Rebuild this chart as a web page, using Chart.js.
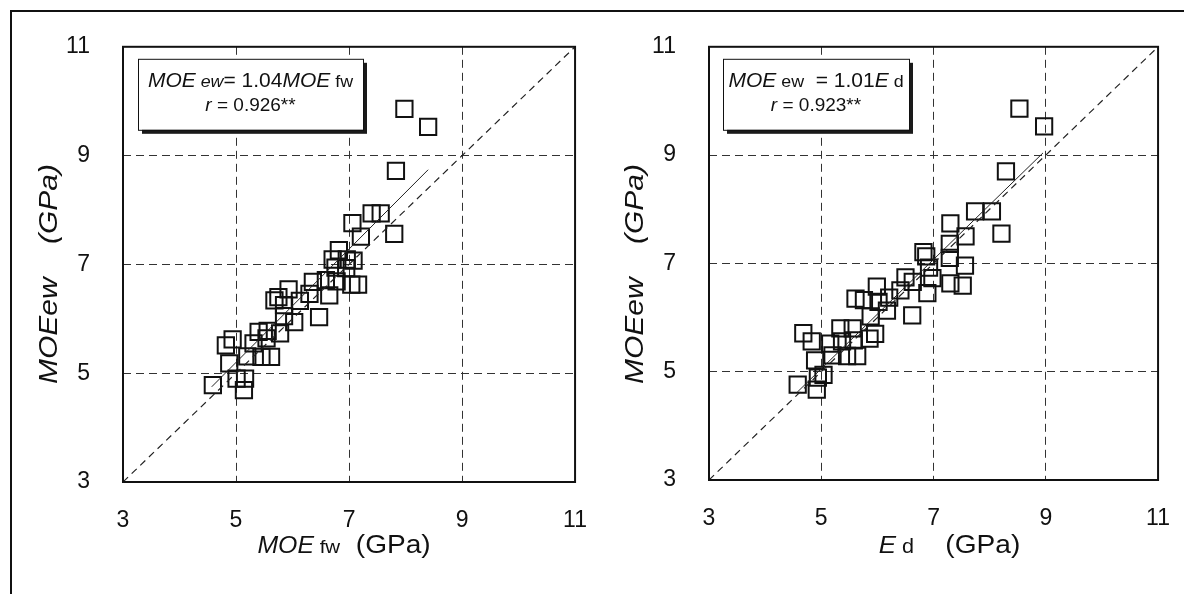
<!DOCTYPE html>
<html>
<head>
<meta charset="utf-8">
<script src="https://cdn.jsdelivr.net/npm/chart.js@4.4.1/dist/chart.umd.min.js"></script>
<style>
  body { margin: 0; background: #fff; width: 1184px; height: 594px; overflow: hidden; position: relative; }
  #frame { position: absolute; left: 10px; top: 10px; width: 1200px; height: 620px;
           border-left: 2px solid #111; border-top: 2px solid #111; }
  canvas { position: absolute; top: 0; }
</style>
</head>
<body>
<div id="frame"></div>
<canvas id="chartFw" width="612" height="594" style="left:0"></canvas>
<canvas id="chartEd" width="603" height="594" style="left:592px"></canvas>
<script>
// MOEfw vs MOEew (left panel), GPa
const fwX = [7.40, 7.56, 7.06, 7.21, 7.80, 6.82, 6.71, 6.96, 7.08, 6.76, 6.95,
             7.04, 7.16, 6.65, 6.59, 6.78, 6.36, 6.30, 6.13, 5.93, 5.75, 5.68,
             5.85, 6.47, 6.03, 5.85, 5.56, 5.40, 5.78, 4.94, 4.82, 5.20, 5.45,
             5.62, 4.88, 5.01, 5.16, 4.59, 5.14, 5.31, 5.54, 7.98, 8.40, 7.83];
const fwY = [7.94, 7.94, 7.76, 7.51, 7.56, 7.26, 7.09, 7.09, 7.07, 6.94, 6.93,
             6.63, 6.63, 6.43, 6.71, 6.69, 6.68, 6.46, 6.33, 6.54, 6.40, 6.34,
             6.25, 6.03, 5.94, 6.05, 5.78, 5.76, 5.73, 5.62, 5.51, 5.31, 5.30,
             5.30, 5.18, 4.90, 4.90, 4.78, 4.69, 5.55, 5.64, 9.86, 9.53, 8.72];

// Ed vs MOEew (right panel), GPa
const edX = [7.74, 8.04, 7.30, 7.57, 8.21, 7.29, 7.29, 7.56, 7.30, 7.52, 6.82,
             6.87, 6.92, 6.98, 6.89, 6.62, 6.63, 6.50, 6.41, 6.21, 5.99, 6.02,
             5.61, 5.76, 6.17, 5.88, 5.96, 5.34, 5.56, 5.86, 4.68, 4.83, 5.16,
             5.37, 5.58, 5.20, 5.46, 5.64, 4.89, 5.04, 4.94, 4.58, 4.92, 8.53,
             8.97, 8.29];
const edY = [7.96, 7.96, 7.74, 7.50, 7.55, 7.36, 7.10, 6.96, 6.63, 6.59, 7.21,
             7.13, 6.92, 6.73, 6.45, 6.04, 6.66, 6.74, 6.50, 6.37, 6.57, 6.29,
             6.35, 6.32, 6.13, 6.02, 5.70, 5.80, 5.80, 5.61, 5.71, 5.56, 5.52,
             5.56, 5.58, 5.30, 5.29, 5.29, 5.21, 4.94, 4.89, 4.76, 4.67, 9.86,
             9.53, 8.70];

// regression lines (end points) and the 1:1 line
const fwFitX = [4.57, 8.40];
const fwFitY = [4.75, 8.74];
const edFitX = [4.57, 8.95];
const edFitY = [4.62, 9.04];
const oneToOne = [3, 11];

const axisTicks = [3, 5, 7, 9, 11];

const FONT = '"Liberation Sans", Arial, sans-serif';

function toPoints(xs, ys) {
  return xs.map((x, i) => ({ x: x, y: ys[i] }));
}

// draw a line of mixed-style text centred on cx, optionally stretched
function drawRuns(ctx, runs, cx, y, sx) {
  let total = 0;
  runs.forEach(r => { ctx.font = r[1]; total += ctx.measureText(r[0]).width; });
  ctx.save();
  ctx.translate(cx, y);
  ctx.scale(sx || 1, 1);
  let x = -total / 2;
  ctx.textAlign = 'left';
  ctx.textBaseline = 'alphabetic';
  runs.forEach(r => {
    ctx.font = r[1];
    ctx.fillText(r[0], x, 0);
    x += ctx.measureText(r[0]).width;
  });
  ctx.restore();
}

const decor = {
  id: 'decor',
  afterDraw(chart, args, o) {
    const { ctx, chartArea: a } = chart;
    ctx.save();
    // plot frame
    ctx.strokeStyle = '#111';
    ctx.lineWidth = 2;
    ctx.strokeRect(a.left, a.top, a.right - a.left, a.bottom - a.top);

    // equation box with drop shadow
    const [dx, dy, bw, bh] = o.box;
    const bx = a.left + dx, by = a.top + dy;
    ctx.fillStyle = '#1a1a1a';
    ctx.fillRect(bx + 4, by + 4, bw, bh);
    ctx.fillStyle = '#fff';
    ctx.fillRect(bx, by, bw, bh);
    ctx.lineWidth = 1;
    ctx.strokeRect(bx + 0.5, by + 0.5, bw, bh);
    ctx.fillStyle = '#111';
    drawRuns(ctx, o.line1, bx + bw / 2, by + 28, 1.05);
    drawRuns(ctx, o.line2, bx + bw / 2, by + 52, 1);

    // x axis title
    drawRuns(ctx, o.xTitle, (a.left + a.right) / 2 + o.xShift, 553, 1.08);

    // y axis title
    ctx.translate(a.left - 73, 274);
    ctx.rotate(-Math.PI / 2);
    ctx.scale(1.2, 1);
    ctx.font = 'italic 25px ' + FONT;
    ctx.textAlign = 'center';
    ctx.textBaseline = 'middle';
    ctx.fillText('MOEew    (GPa)', 0, 0);
    ctx.restore();
  }
};

function axis(fitSize, isY) {
  return {
    type: 'linear',
    min: 3,
    max: 11,
    afterBuildTicks: scale => { scale.ticks = axisTicks.map(v => ({ value: v })); },
    afterFit: scale => { if (isY) scale.width = fitSize; else scale.height = fitSize; },
    grid: {
      drawTicks: false,
      lineWidth: 1,
      color: c => (c.tick && (c.tick.value === 3 || c.tick.value === 11)) ? 'rgba(0,0,0,0)' : '#333'
    },
    border: { display: false, dash: [8, 5] },
    ticks: {
      color: '#111',
      padding: isY ? 33 : 25,
      font: { family: FONT, size: 23 }
    }
  };
}

function makeChart(id, xs, ys, fitX, fitY, pad, yWidth, xHeight, decorOpts) {
  return new Chart(document.getElementById(id), {
    type: 'scatter',
    data: {
      datasets: [
        {
          data: toPoints(oneToOne, oneToOne),
          showLine: true,
          pointRadius: 0,
          borderColor: '#222',
          borderWidth: 1.2,
          borderDash: [7, 5]
        },
        {
          data: toPoints(fitX, fitY),
          showLine: true,
          pointRadius: 0,
          borderColor: '#222',
          borderWidth: 1
        },
        {
          data: toPoints(xs, ys),
          pointStyle: 'rect',
          pointRadius: 11.5,
          borderColor: '#111',
          borderWidth: 2,
          backgroundColor: 'rgba(0,0,0,0)'
        }
      ]
    },
    options: {
      responsive: false,
      animation: false,
      layout: { padding: pad },
      plugins: {
        legend: { display: false },
        tooltip: { enabled: false },
        decor: decorOpts
      },
      scales: {
        x: axis(xHeight, false),
        y: axis(yWidth, true)
      }
    },
    plugins: [decor]
  });
}

const big = '20px ' + FONT, bigI = 'italic 20px ' + FONT;
const small = '17px ' + FONT, smallI = 'italic 17px ' + FONT;
const line2Font = '19px ' + FONT, line2FontI = 'italic 19px ' + FONT;

makeChart('chartFw', fwX, fwY, fwFitX, fwFitY,
  { left: 0, top: 46, right: 0, bottom: 0 }, 123, 112, {
    box: [15, 12, 225, 71],
    line1: [['MOE', bigI], [' ew', smallI], ['= 1.04', big], ['MOE', bigI], [' fw', small]],
    line2: [['r', line2FontI], [' = 0.926**', line2Font]],
    xTitle: [['MOE', 'italic 23px ' + FONT], [' fw', '19px ' + FONT], ['  (GPa)', '26px ' + FONT]],
    xShift: -5
  });

makeChart('chartEd', edX, edY, edFitX, edFitY,
  { left: 0, top: 46, right: 0, bottom: 0 }, 117, 114, {
    box: [14, 12, 186, 71],
    line1: [['MOE', bigI], [' ew', small], ['  = 1.01', big], ['E', bigI], [' d', small]],
    line2: [['r', line2FontI], [' = 0.923**', line2Font]],
    xTitle: [['E', 'italic 24px ' + FONT], [' d', '20px ' + FONT], ['    (GPa)', '26px ' + FONT]],
    xShift: 16
  });
</script>
</body>
</html>
